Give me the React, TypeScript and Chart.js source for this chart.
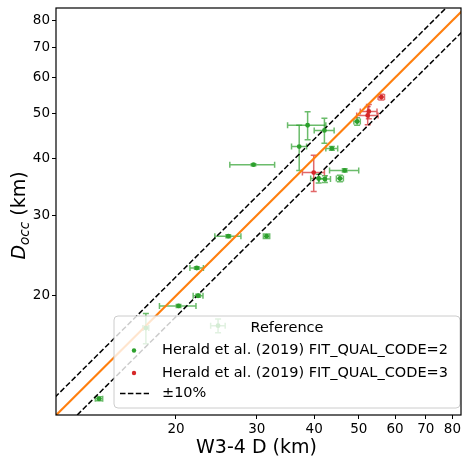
import React, { useEffect, useRef } from "react";
import { Chart, registerables } from "chart.js";

Chart.register(...registerables);

// ---- data ----
const X_MIN = 10.96;
const X_MAX = 83.5;
const Y_MIN = 10.97;
const Y_MAX = 85.2;
const TICK_VALUES = [20, 30, 40, 50, 60, 70, 80];

// Herald et al. (2019) FIT_QUAL_CODE=2
const greenX = [13.6, 17.2, 24.7, 26.0, 31.5, 22.2, 22.35, 20.26, 29.5, 46.6, 38.7, 42.1, 37.1, 43.7, 49.6, 40.9, 42.2, 45.5];
const greenXErr = [0.25, 0.25, 0.9, 1.7, 0.5, 0.75, 0.55, 1.85, 3.3, 3.4, 3.7, 2.1, 1.4, 1.3, 0.8, 1.6, 1.2, 0.8];
const greenY = [11.9, 17.0, 17.2, 27.0, 27.0, 23.0, 20.0, 19.0, 38.7, 37.6, 47.2, 46.0, 42.4, 42.0, 48.1, 36.1, 36.0, 36.1];
const greenYErr = [0.12, 1.3, 0.6, 0.2, 0.3, 0.15, 0.15, 0.15, 0.2, 0.3, 3.3, 2.9, 4.8, 0.4, 0.9, 0.8, 0.6, 0.6];

// Herald et al. (2019) FIT_QUAL_CODE=3
const redX = [39.9, 52.3, 52.6, 56.0];
const redXErr = [2.2, 2.8, 2.2, 0.9];
const redY = [37.2, 49.6, 50.6, 54.4];
const redYErr = [3.4, 2.3, 1.8, 0.8];

// reference lines: y = x and ±10 %
const LINE_X = [8, 110];
const ONE_TO_ONE = 1.0;
const BAND = 0.1;

const LEGEND_TITLE = "Reference";
const LEGEND_LABELS = [
  "Herald et al. (2019) FIT_QUAL_CODE=2",
  "Herald et al. (2019) FIT_QUAL_CODE=3",
  "±10%",
];
const X_LABEL = "W3-4 D (km)";
const Y_LABEL_MAIN = "D";
const Y_LABEL_SUB = "occ";
const Y_LABEL_UNIT = " (km)";

// ---- styles ----
const FONT = '"DejaVu Sans", "Noto Sans", sans-serif';
const GREEN = "#2ca02c";
const RED = "#d62728";
const ORANGE = "#ff7f0e";
const GREEN_BAR = "rgba(44,160,44,0.7)";
const RED_BAR = "rgba(214,39,40,0.7)";

const ERR_SERIES = [
  { x: greenX, xe: greenXErr, y: greenY, ye: greenYErr, color: GREEN_BAR },
  { x: redX, xe: redXErr, y: redY, ye: redYErr, color: RED_BAR },
];

const errorBarPlugin = {
  id: "errorBars",
  beforeDatasetsDraw(chart: any) {
    const { ctx, chartArea: a } = chart;
    const xs = chart.scales.x;
    const ys = chart.scales.y;
    const cap = 3;
    ctx.save();
    ctx.beginPath();
    ctx.rect(a.left, a.top, a.right - a.left, a.bottom - a.top);
    ctx.clip();
    ctx.lineWidth = 1.5;
    for (const s of ERR_SERIES) {
      ctx.strokeStyle = s.color;
      for (let i = 0; i < s.x.length; i++) {
        const px = xs.getPixelForValue(s.x[i]);
        const py = ys.getPixelForValue(s.y[i]);
        const x0 = xs.getPixelForValue(s.x[i] - s.xe[i]);
        const x1 = xs.getPixelForValue(s.x[i] + s.xe[i]);
        const y0 = ys.getPixelForValue(s.y[i] - s.ye[i]);
        const y1 = ys.getPixelForValue(s.y[i] + s.ye[i]);
        ctx.beginPath();
        ctx.moveTo(x0, py);
        ctx.lineTo(x1, py);
        ctx.moveTo(x0, py - cap);
        ctx.lineTo(x0, py + cap);
        ctx.moveTo(x1, py - cap);
        ctx.lineTo(x1, py + cap);
        ctx.moveTo(px, y0);
        ctx.lineTo(px, y1);
        ctx.moveTo(px - cap, y0);
        ctx.lineTo(px + cap, y0);
        ctx.moveTo(px - cap, y1);
        ctx.lineTo(px + cap, y1);
        ctx.stroke();
      }
    }
    ctx.restore();
  },
};

const decorPlugin = {
  id: "decor",
  afterDatasetsDraw(chart: any) {
    const { ctx, chartArea: a } = chart;
    ctx.save();
    // legend box (semi-transparent, over the data)
    const lw = 346;
    const lh = 92;
    const lx = a.right - 1 - lw;
    const ly = a.bottom - 7 - lh;
    ctx.beginPath();
    ctx.roundRect(lx, ly, lw, lh, 4);
    ctx.fillStyle = "rgba(255,255,255,0.8)";
    ctx.fill();
    ctx.strokeStyle = "#cccccc";
    ctx.lineWidth = 1;
    ctx.stroke();

    ctx.fillStyle = "#000";
    ctx.font = `14.5px ${FONT}`;
    ctx.textBaseline = "middle";
    ctx.textAlign = "center";
    ctx.fillText(LEGEND_TITLE, lx + lw / 2, ly + 12);
    ctx.textAlign = "left";
    const rows = [ly + 34.5, ly + 57, ly + 77.5];
    const colors = [GREEN, RED];
    for (let i = 0; i < 2; i++) {
      ctx.beginPath();
      ctx.fillStyle = colors[i];
      ctx.arc(lx + 20, rows[i], 2.2, 0, Math.PI * 2);
      ctx.fill();
    }
    ctx.beginPath();
    ctx.setLineDash([5.5, 2.4]);
    ctx.strokeStyle = "#000";
    ctx.lineWidth = 1.5;
    ctx.moveTo(lx + 6, rows[2]);
    ctx.lineTo(lx + 35, rows[2]);
    ctx.stroke();
    ctx.setLineDash([]);
    ctx.fillStyle = "#000";
    for (let i = 0; i < 3; i++) {
      ctx.fillText(LEGEND_LABELS[i], lx + 48, rows[i]);
    }
    ctx.restore();
  },
  afterDraw(chart: any) {
    const { ctx, chartArea: a } = chart;
    ctx.save();
    // frame
    ctx.strokeStyle = "#000";
    ctx.lineWidth = 1.2;
    ctx.strokeRect(a.left, a.top, a.right - a.left, a.bottom - a.top);

    // x label
    ctx.fillStyle = "#000";
    ctx.font = `19px ${FONT}`;
    ctx.textAlign = "center";
    ctx.textBaseline = "alphabetic";
    ctx.fillText(X_LABEL, (a.left + a.right) / 2 - 2, 453);

    // y label with subscript
    const fMain = `italic 19px ${FONT}`;
    const fSub = `italic 13.5px ${FONT}`;
    const fUnit = `19px ${FONT}`;
    ctx.font = fMain;
    const w1 = ctx.measureText(Y_LABEL_MAIN).width;
    ctx.font = fSub;
    const w2 = ctx.measureText(Y_LABEL_SUB).width;
    ctx.font = fUnit;
    const w3 = ctx.measureText(Y_LABEL_UNIT).width;
    const total = w1 + w2 + w3;
    ctx.translate(25, (a.top + a.bottom) / 2 + 4);
    ctx.rotate(-Math.PI / 2);
    ctx.textAlign = "left";
    let sx = -total / 2;
    ctx.font = fMain;
    ctx.fillText(Y_LABEL_MAIN, sx, 0);
    sx += w1;
    ctx.font = fSub;
    ctx.fillText(Y_LABEL_SUB, sx, 4);
    sx += w2;
    ctx.font = fUnit;
    ctx.fillText(Y_LABEL_UNIT, sx, 0);
    ctx.restore();
  },
};

function axis(isX: boolean) {
  return {
    type: "logarithmic" as const,
    min: isX ? X_MIN : Y_MIN,
    max: isX ? X_MAX : Y_MAX,
    afterBuildTicks: (s: any) => {
      s.ticks = TICK_VALUES.map((v) => ({ value: v }));
    },
    afterFit: (s: any) => {
      if (isX) s.height = 41;
      else s.width = 56;
      s.paddingTop = 0;
      s.paddingBottom = 0;
      s.paddingLeft = 0;
      s.paddingRight = 0;
    },
    ticks: {
      autoSkip: false,
      maxRotation: 0,
      padding: 2,
      color: "#000",
      font: { family: FONT, size: 13.5 },
      callback: (v: any) => String(v),
    },
    grid: {
      drawOnChartArea: false,
      drawTicks: true,
      tickLength: 4,
      tickColor: "#000",
      tickWidth: 1,
    },
    border: { display: false },
    title: { display: false },
  };
}

export default function App() {
  const ref = useRef<HTMLCanvasElement>(null);
  useEffect(() => {
    if (!ref.current) return;
    const chart = new Chart(ref.current, {
      type: "scatter",
      data: {
        datasets: [
          {
            label: LEGEND_LABELS[0],
            data: greenX.map((x, i) => ({ x, y: greenY[i] })),
            backgroundColor: GREEN,
            borderColor: GREEN,
            pointRadius: 2.4,
            pointBorderWidth: 0,
          },
          {
            label: LEGEND_LABELS[1],
            data: redX.map((x, i) => ({ x, y: redY[i] })),
            backgroundColor: RED,
            borderColor: RED,
            pointRadius: 2.4,
            pointBorderWidth: 0,
          },
          {
            type: "line",
            label: "1:1",
            data: LINE_X.map((x) => ({ x, y: x * ONE_TO_ONE })),
            borderColor: ORANGE,
            borderWidth: 2.2,
            pointRadius: 0,
            clip: 0,
          },
          {
            type: "line",
            label: "+10%",
            data: LINE_X.map((x) => ({ x, y: x * (1 + BAND) })),
            borderColor: "#000",
            borderWidth: 1.5,
            borderDash: [5.5, 2.4],
            pointRadius: 0,
            clip: 0,
          },
          {
            type: "line",
            label: "-10%",
            data: LINE_X.map((x) => ({ x, y: x * (1 - BAND) })),
            borderColor: "#000",
            borderWidth: 1.5,
            borderDash: [5.5, 2.4],
            pointRadius: 0,
            clip: 0,
          },
        ] as any,
      },
      options: {
        animation: false,
        responsive: false,
        maintainAspectRatio: false,
        layout: { padding: { top: 8, right: 2, left: 0, bottom: 0 } },
        plugins: { legend: { display: false }, tooltip: { enabled: false } },
        scales: { x: axis(true), y: axis(false) } as any,
      },
      plugins: [errorBarPlugin, decorPlugin],
    });
    return () => chart.destroy();
  }, []);
  return (
    <div style={{ position: "absolute", left: 0, top: 0, width: 465, height: 456 }}>
      <canvas ref={ref} width={465} height={456} style={{ width: 465, height: 456, display: "block" }} />
    </div>
  );
}
